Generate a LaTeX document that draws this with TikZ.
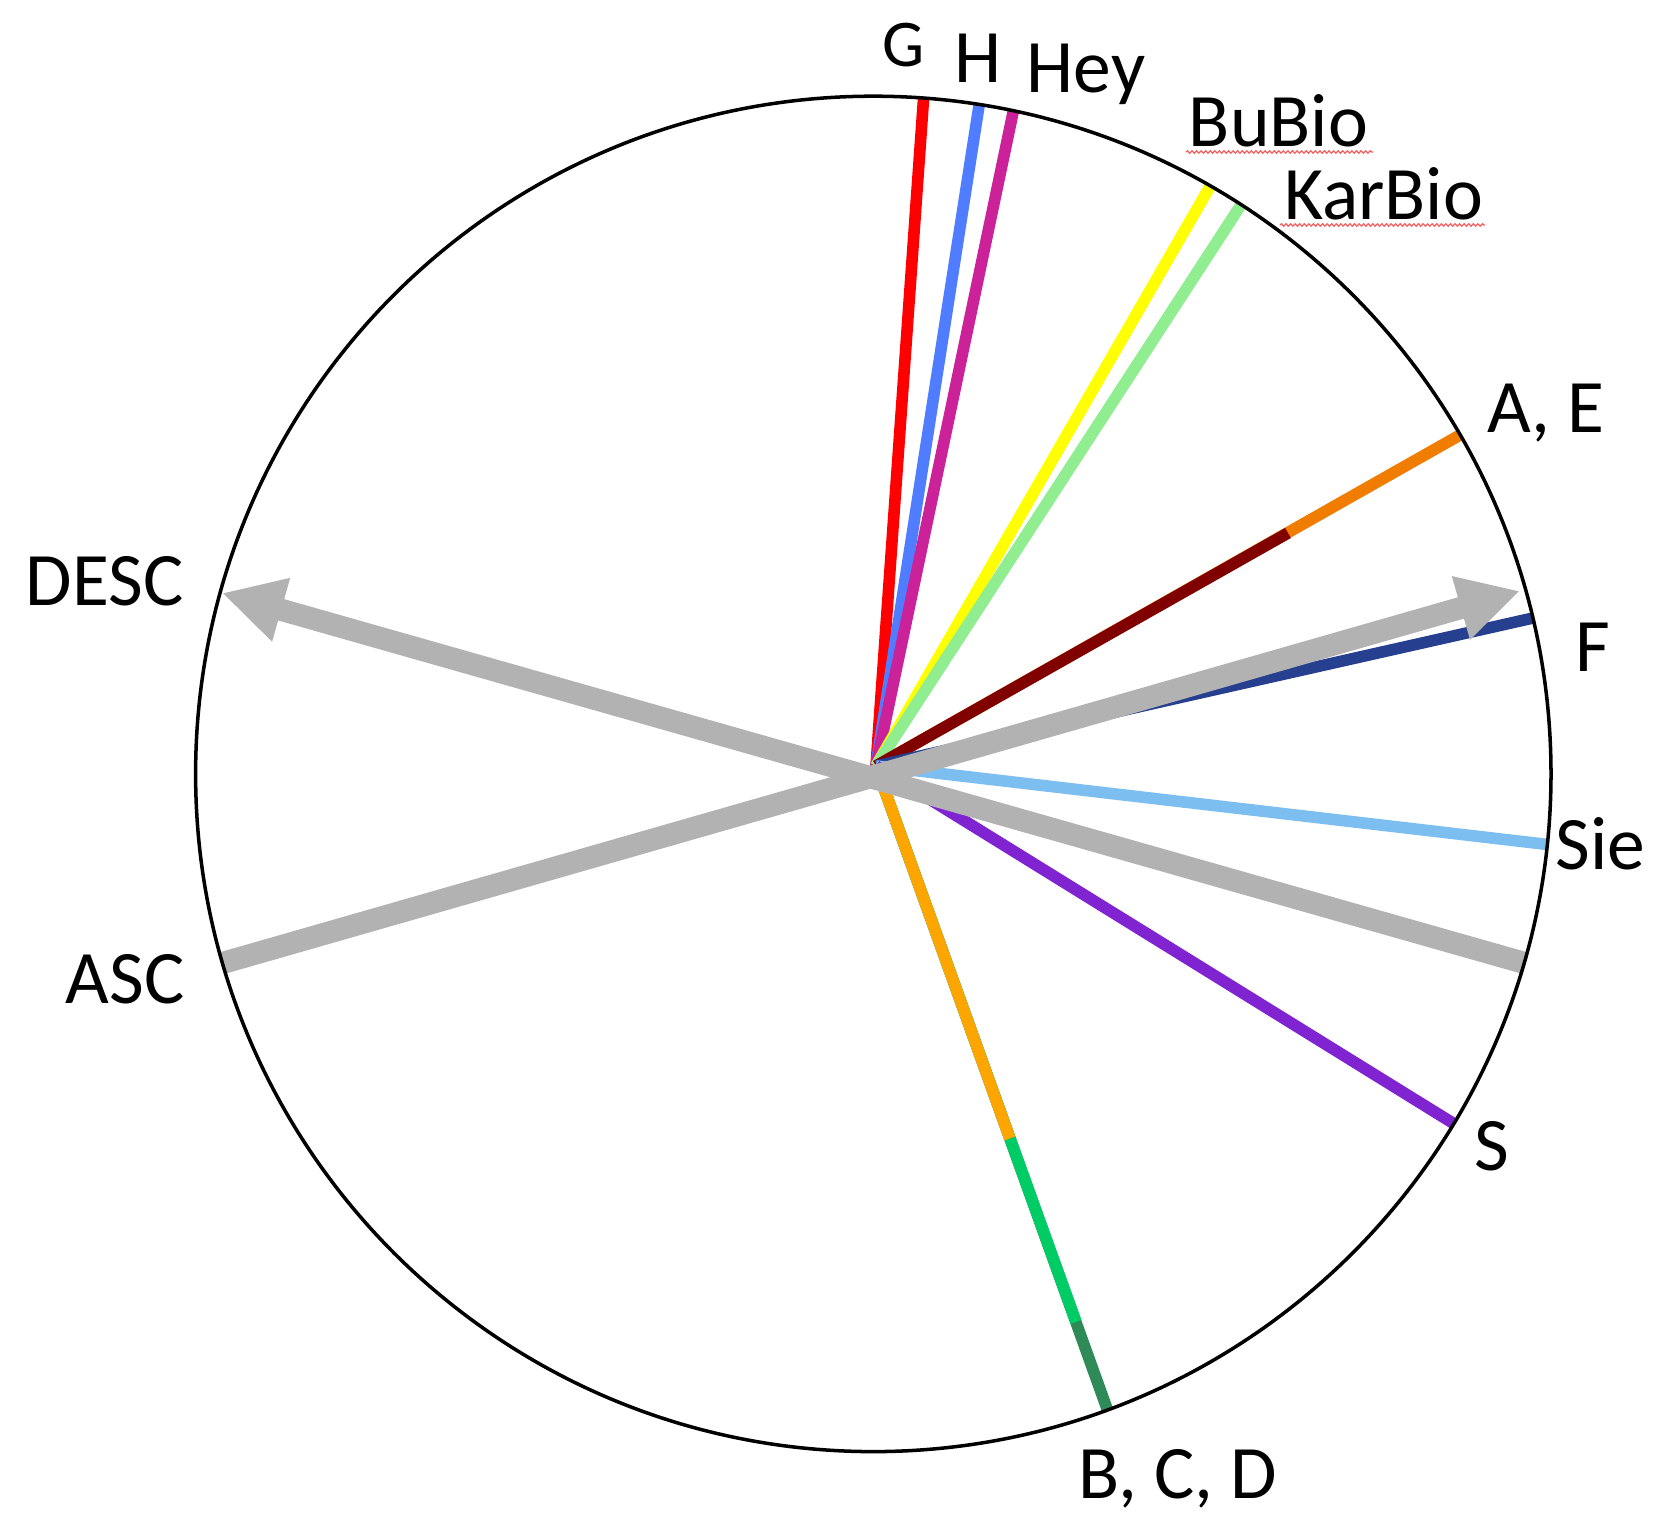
\documentclass[tikz,border=0pt]{standalone}
\usepackage{fontspec}
\setmainfont{Carlito}
\usetikzlibrary{arrows.meta,decorations.pathmorphing,calc}
\definecolor{cG}{RGB}{255,0,0}
\definecolor{cH}{RGB}{80,125,255}
\definecolor{cHey}{RGB}{204,34,153}
\definecolor{cBu}{RGB}{255,255,0}
\definecolor{cKar}{RGB}{144,238,144}
\definecolor{cAE}{RGB}{240,125,0}
\definecolor{cAEd}{RGB}{128,0,0}
\definecolor{cF}{RGB}{38,64,143}
\definecolor{cSie}{RGB}{125,190,240}
\definecolor{cS}{RGB}{128,36,210}
\definecolor{cB}{RGB}{255,165,0}
\definecolor{cC}{RGB}{0,204,102}
\definecolor{cD}{RGB}{46,139,87}
\definecolor{arrowgray}{RGB}{178,178,178}
\definecolor{squig}{RGB}{245,95,95}
\begin{document}
\begin{tikzpicture}[x=0.02cm,y=-0.02cm,
  ray/.style={line width=6.6pt},
  grayarrow/.style={line width=12.6pt, draw=arrowgray, -{Triangle[length=35pt,width=35pt]}},
  lbl/.style={font=\fontsize{43}{51}\selectfont, inner sep=0pt, anchor=base},
  squiggle/.style={draw=squig, line width=0.7pt, decorate, decoration={snake, amplitude=0.7pt, segment length=2.6pt}}]
\useasboundingbox (0,0) rectangle (1676,1540);
\fill[white] (0,0) rectangle (1676,1540);
\coordinate (O) at (873.3,773.9);
\coordinate (hub) at (876,766);
\coordinate (eG) at (923.5,99.4);
\coordinate (eH) at (979,105.8);
\coordinate (eHey) at (1013.3,111.2);
\coordinate (eBu) at (1209,188.1);
\coordinate (eKar) at (1240,206.3);
\coordinate (eAE) at (1460,435);
\coordinate (mAE) at (1288,533);
\coordinate (eF) at (1534,617.8);
\coordinate (eSie) at (1546.7,844.4);
\coordinate (eS) at (1451.6,1122.3);
\coordinate (eBCD) at (1106.3,1406.7);
\coordinate (mC) at (1076,1322);
\coordinate (mB) at (1009.8,1138.4);
\coordinate (t1) at (226,962);
\coordinate (h1) at (1520,591);
\coordinate (t2) at (1521,962);
\coordinate (h2) at (222,593);
\begin{scope}
\clip (O) circle (677.7);
\draw[ray, cG] (hub) -- ($(eG)!-6pt!(hub)$);
\draw[ray, cH] (hub) -- ($(eH)!-6pt!(hub)$);
\draw[ray, cHey] (hub) -- ($(eHey)!-6pt!(hub)$);
\draw[ray, cBu] (hub) -- ($(eBu)!-6pt!(hub)$);
\draw[ray, cKar] (hub) -- ($(eKar)!-6pt!(hub)$);
\draw[ray, cAE] (hub) -- ($(eAE)!-6pt!(hub)$);
\draw[ray, cAEd] (hub) -- (mAE);
\draw[ray, cF] (hub) -- ($(eF)!-6pt!(hub)$);
\draw[ray, cSie] (hub) -- ($(eSie)!-6pt!(hub)$);
\draw[ray, cS] (hub) -- ($(eS)!-6pt!(hub)$);
\draw[ray, cD] (hub) -- ($(eBCD)!-6pt!(hub)$);
\draw[ray, cC] (hub) -- (mC);
\draw[ray, cB] (hub) -- (mB);
\draw[grayarrow] ($(t1)!-8pt!(h1)$) -- (h1);
\draw[grayarrow] ($(t2)!-8pt!(h2)$) -- (h2);
\end{scope}
\draw[line width=2pt, black] (O) circle (677.7);
\node[lbl, font=\fontsize{38}{45}\selectfont] (lG) at (904,67) {G};
\node[lbl] (lH) at (978,83) {H};
\node[lbl] (lHey) at (1086,93) {Hey};
\node[lbl] (lBu) at (1278.5,147) {BuBio};
\node[lbl] (lKar) at (1383.5,220) {KarBio};
\node[lbl] (lAE) at (1546,433) {A, E};
\node[lbl] (lF) at (1592.5,671) {F};
\node[lbl] (lSie) at (1600.5,869) {Sie};
\node[lbl] (lS) at (1492,1170) {S};
\node[lbl] (lBCD) at (1178,1498) {B, C, D};
\node[lbl] (lDESC) at (104.5,605) {DESC};
\node[lbl] (lASC) at (125,1003) {ASC};
\coordinate (sq1a) at (1186,152);
\coordinate (sq1b) at (1373,152);
\coordinate (sq2a) at (1280,225);
\coordinate (sq2b) at (1485,225);
\draw[squiggle] (sq1a) -- (sq1b);
\draw[squiggle] (sq2a) -- (sq2b);
\end{tikzpicture}
\end{document}
